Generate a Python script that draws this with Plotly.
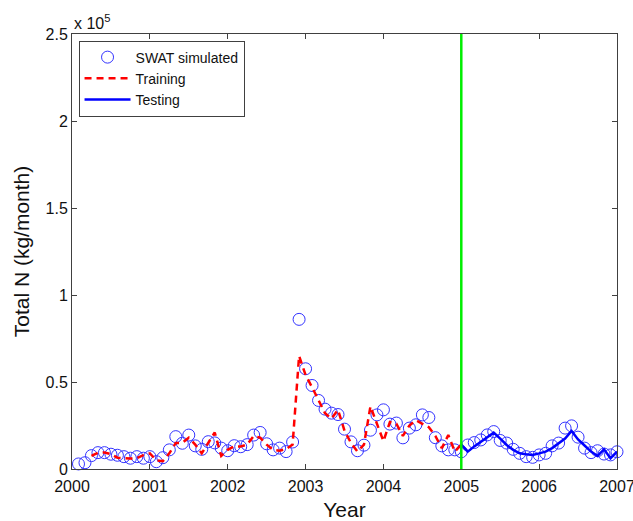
import plotly.graph_objects as go

# Month index k -> time 2000 + k/12
sim_months = list(range(1, 85))
swat_simulated = [
    2900, 3600, 7700, 9400, 9400, 8500, 7900, 7100, 6200, 7100, 6200, 7100,
    4200, 6500, 11000, 18600, 14800, 19500, 13300, 11300, 15700, 15000, 12000, 10500,
    13400, 12800, 14000, 19500, 21000, 14500, 11000, 12000, 10000, 15500, 86000, 57600,
    48000, 39400, 34400, 32100, 31300, 22900, 15600, 10500, 13700, 22300, 31100, 34000,
    25800, 26400, 17900, 23500, 25400, 31100, 29600, 18000, 13300, 11000, 11000, 9900,
    13800, 15200, 16700, 19600, 21500, 16400, 14900, 11300, 9000, 7100, 6700, 8100,
    9000, 13300, 14900, 23500, 24800, 18300, 12000, 9400, 10500, 8600, 8100, 9900,
]

train_months = list(range(3, 61))
training = [
    7500, 9400, 9500, 8500, 6500, 6200, 6000, 6200, 8000, 9000,
    5000, 4500, 9000, 15000, 15000, 18000, 14000, 9000, 15000, 21000, 7500, 11000,
    13000, 13000, 14000, 19000, 18000, 14000, 11000, 10500, 11500, 14000, 65000, 54000,
    47000, 39000, 32000, 29000, 34000, 22000, 15000, 10000, 14000, 36000, 26000, 16000,
    27000, 26000, 19000, 25000, 28000, 26000, 24000, 19000, 12000, 19500, 10000, 14000,
]

test_months = list(range(60, 85))
testing = [
    14000, 10000, 13000, 15500, 18500, 20900, 17500, 13800, 11000, 9000, 8500, 8100,
    9000, 10000, 12000, 14800, 17500, 21900, 17000, 13500, 10000, 7500, 11300, 6200, 10000,
]

split_year = 2005
x_ticks = [2000, 2001, 2002, 2003, 2004, 2005, 2006, 2007]
y_ticks = [0, 50000, 100000, 150000, 200000, 250000]
y_tick_text = ["0", "0.5", "1", "1.5", "2", "2.5"]


def to_year(months):
    return [2000 + m / 12 for m in months]


fig = go.Figure()
fig.add_trace(go.Scatter(
    x=to_year(sim_months), y=swat_simulated, mode="markers", name="SWAT simulated",
    marker=dict(symbol="circle-open", size=12, color="#3333ff", line=dict(width=1)),
    cliponaxis=False,
))
fig.add_trace(go.Scatter(
    x=to_year(train_months), y=training, mode="lines", name="Training",
    line=dict(color="#ff0000", width=2.5, dash="7px,5px"),
))
fig.add_trace(go.Scatter(
    x=to_year(test_months), y=testing, mode="lines", name="Testing",
    line=dict(color="#0000ff", width=2.5),
))

fig.add_shape(type="line", x0=split_year, x1=split_year, y0=0, y1=1, yref="paper",
              line=dict(color="#00ee00", width=2.5))

font_family = "Liberation Sans, Arial, sans-serif"
axis_common = dict(
    showgrid=False, zeroline=False, showline=True, linecolor="#404040", linewidth=1,
    ticks="inside", ticklen=5, tickcolor="#404040", mirror="ticks", automargin=False,
    tickfont=dict(family=font_family, size=16, color="#111111"),
)

fig.update_layout(
    width=633, height=521,
    margin=dict(l=72, r=16, t=34, b=52),
    paper_bgcolor="white", plot_bgcolor="white",
    font=dict(family=font_family, color="#111111"),
    xaxis=dict(range=[2000, 2007], tickvals=x_ticks, ticklabeloverflow="allow",
               ticklabelstandoff=3, **axis_common,
               title=dict(text="Year", font=dict(size=21), standoff=10)),
    yaxis=dict(range=[0, 250000], tickvals=y_ticks, ticktext=y_tick_text, **axis_common,
               title=dict(text="Total N (kg/month)", font=dict(size=21), standoff=10)),
    legend=dict(x=0.012, y=0.985, xanchor="left", yanchor="top",
                bgcolor="white", bordercolor="#404040", borderwidth=1,
                font=dict(family=font_family, size=14, color="#111111"),
                tracegroupgap=0, itemwidth=46),
    showlegend=True,
    annotations=[dict(x=0, y=1, xref="paper", yref="paper", xanchor="left", yanchor="bottom",
                      text="x 10<sup>5</sup>", showarrow=False,
                      font=dict(family=font_family, size=16, color="#111111"))],
)

fig.write_html("out.html")
